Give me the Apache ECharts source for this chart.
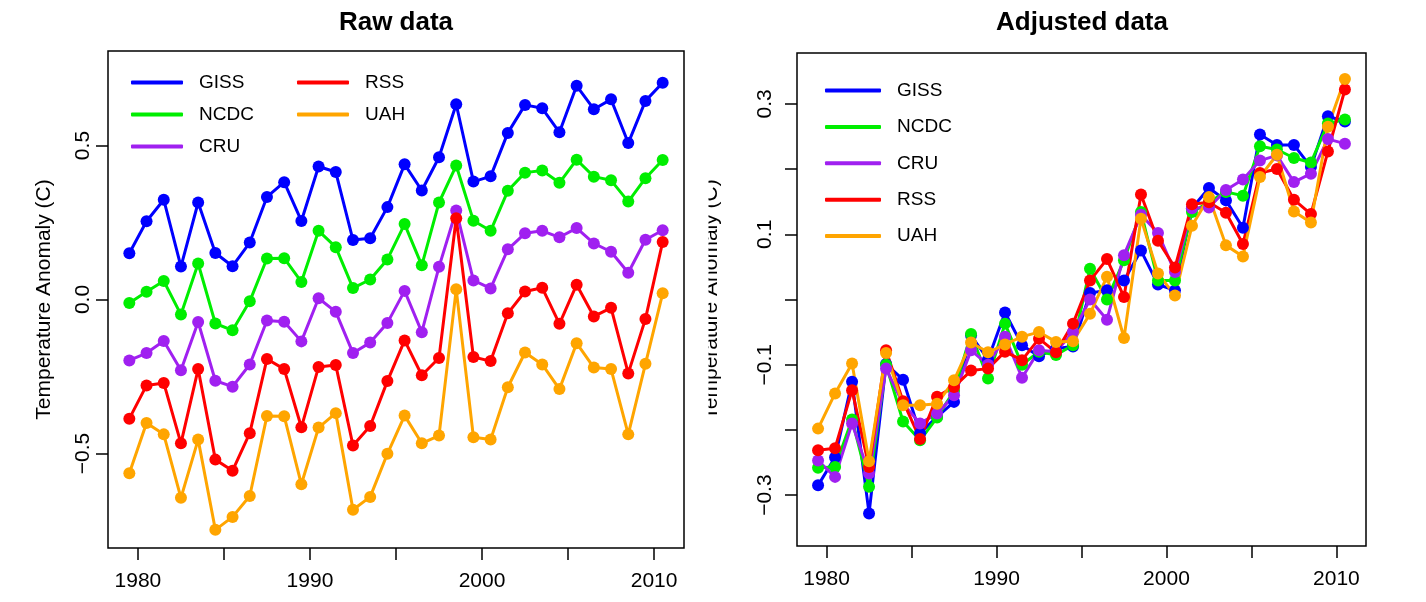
<!DOCTYPE html>
<html>
<head>
<meta charset="utf-8">
<script src="https://cdn.jsdelivr.net/npm/echarts@6/dist/echarts.min.js"></script>
<style>
  html, body { margin: 0; padding: 0; background: #fff; }
  #chart { width: 1426px; height: 602px; }
</style>
</head>
<body>
<div id="chart"></div>
<script>
// years (points are plotted at mid-year)
var years = [1979, 1980, 1981, 1982, 1983, 1984, 1985, 1986, 1987, 1988, 1989, 1990, 1991, 1992, 1993, 1994,
             1995, 1996, 1997, 1998, 1999, 2000, 2001, 2002, 2003, 2004, 2005, 2006, 2007, 2008, 2009, 2010];

// raw data (offset series)
var rawGISS = [0.150, 0.254, 0.324, 0.107, 0.315, 0.151, 0.108, 0.185, 0.333, 0.381, 0.255, 0.432, 0.414, 0.193, 0.199, 0.300,
               0.439, 0.354, 0.462, 0.634, 0.383, 0.400, 0.541, 0.632, 0.621, 0.543, 0.694, 0.618, 0.650, 0.508, 0.645, 0.704];
var rawNCDC = [-0.011, 0.025, 0.060, -0.049, 0.117, -0.078, -0.100, -0.006, 0.133, 0.134, 0.057, 0.223, 0.170, 0.037, 0.065, 0.130,
               0.245, 0.111, 0.315, 0.435, 0.256, 0.223, 0.353, 0.412, 0.419, 0.379, 0.454, 0.399, 0.387, 0.318, 0.394, 0.453];
var rawCRU = [-0.198, -0.174, -0.135, -0.230, -0.073, -0.264, -0.283, -0.211, -0.068, -0.072, -0.136, 0.004, -0.040, -0.174, -0.140, -0.076,
              0.028, -0.106, 0.106, 0.289, 0.062, 0.036, 0.163, 0.215, 0.223, 0.202, 0.232, 0.182, 0.155, 0.087, 0.194, 0.225];
var rawRSS = [-0.387, -0.279, -0.271, -0.467, -0.226, -0.520, -0.556, -0.434, -0.193, -0.226, -0.415, -0.219, -0.213, -0.474, -0.411, -0.265,
              -0.133, -0.246, -0.190, 0.264, -0.187, -0.200, -0.045, 0.026, 0.038, -0.079, 0.048, -0.055, -0.027, -0.240, -0.063, 0.187];
var rawUAH = [-0.564, -0.401, -0.438, -0.644, -0.455, -0.748, -0.706, -0.638, -0.378, -0.379, -0.600, -0.416, -0.369, -0.683, -0.641, -0.501,
              -0.377, -0.467, -0.442, 0.033, -0.447, -0.455, -0.285, -0.172, -0.211, -0.291, -0.142, -0.221, -0.226, -0.438, -0.209, 0.020];

// adjusted data
var adjGISS = [-0.285, -0.242, -0.126, -0.328, -0.099, -0.123, -0.205, -0.180, -0.157, -0.055, -0.092, -0.020, -0.070, -0.087, -0.075, -0.072,
               0.010, 0.014, 0.029, 0.075, 0.023, 0.014, 0.140, 0.171, 0.152, 0.110, 0.253, 0.237, 0.237, 0.203, 0.281, 0.273];
var adjNCDC = [-0.258, -0.257, -0.184, -0.287, -0.100, -0.187, -0.216, -0.181, -0.140, -0.053, -0.121, -0.037, -0.100, -0.080, -0.085, -0.070,
               0.047, 0.000, 0.060, 0.134, 0.029, 0.029, 0.134, 0.149, 0.165, 0.159, 0.235, 0.230, 0.217, 0.210, 0.270, 0.276];
var adjCRU = [-0.247, -0.272, -0.190, -0.267, -0.106, -0.160, -0.190, -0.175, -0.147, -0.078, -0.100, -0.057, -0.120, -0.078, -0.080, -0.050,
              0.000, -0.031, 0.068, 0.130, 0.102, 0.042, 0.140, 0.141, 0.168, 0.184, 0.213, 0.221, 0.180, 0.193, 0.246, 0.239];
var adjRSS = [-0.231, -0.228, -0.139, -0.257, -0.078, -0.156, -0.214, -0.149, -0.134, -0.109, -0.106, -0.080, -0.093, -0.060, -0.081, -0.037,
              0.029, 0.062, 0.004, 0.161, 0.090, 0.049, 0.146, 0.149, 0.133, 0.085, 0.194, 0.200, 0.153, 0.131, 0.227, 0.322];
var adjUAH = [-0.198, -0.144, -0.098, -0.248, -0.082, -0.162, -0.162, -0.160, -0.124, -0.066, -0.081, -0.069, -0.057, -0.050, -0.065, -0.064,
              -0.022, 0.035, -0.059, 0.124, 0.040, 0.006, 0.113, 0.157, 0.083, 0.066, 0.188, 0.222, 0.135, 0.118, 0.265, 0.338];

var names = ['GISS', 'NCDC', 'CRU', 'RSS', 'UAH'];
var colors = ['#0000FF', '#00EE00', '#A020F0', '#FF0000', '#FFA500'];
var rawSets = [rawGISS, rawNCDC, rawCRU, rawRSS, rawUAH];
var adjSets = [adjGISS, adjNCDC, adjCRU, adjRSS, adjUAH];

var xTicks = [1980, 1985, 1990, 1995, 2000, 2005, 2010];
var xLabels = [1980, 1990, 2000, 2010];
var rawYTicks = [-0.5, 0, 0.5];
var adjYTicks = [-0.3, -0.2, -0.1, 0, 0.1, 0.2, 0.3];
var adjYLabels = [-0.3, -0.1, 0.1, 0.3];

var font = "'Liberation Sans', Arial, Helvetica, sans-serif";

function fmtY(v) {
  return v.toFixed(1).replace('-', '\u2212');
}

function xAxis(idx) {
  return {
    type: 'value', gridIndex: idx, min: 1978.26, max: 2011.74,
    axisLine: { show: false, onZero: false },
    splitLine: { show: false },
    axisTick: { show: true, length: 12, customValues: xTicks, lineStyle: { color: '#000', width: 1.5 } },
    axisLabel: { customValues: xLabels, margin: 23, color: '#000', fontSize: 21, fontFamily: font,
                 formatter: function (v) { return String(v); } }
  };
}

// axis carrying labels and title
function yAxis(idx, min, max, labels, labelMargin, nameGap) {
  return {
    type: 'value', gridIndex: idx, min: min, max: max, position: 'left',
    name: 'Temperature Anomaly (C)', nameLocation: 'middle', nameGap: nameGap, nameRotate: 90,
    nameTextStyle: { color: '#000', fontSize: 21, fontFamily: font },
    axisLine: { show: false, onZero: false },
    splitLine: { show: false },
    axisTick: { show: false },
    axisLabel: { customValues: labels, rotate: 90, margin: labelMargin, color: '#000', fontSize: 21, fontFamily: font,
                 formatter: fmtY }
  };
}

// companion axis that only draws the tick marks
function yTickAxis(idx, min, max, ticks) {
  return {
    type: 'value', gridIndex: idx, min: min, max: max, position: 'left',
    axisLine: { show: false, onZero: false },
    splitLine: { show: false },
    axisLabel: { show: false },
    axisTick: { show: true, length: 12, customValues: ticks, lineStyle: { color: '#000', width: 1.5 } }
  };
}

var series = [];
names.forEach(function (n, i) {
  series.push({
    name: n, type: 'line', xAxisIndex: 0, yAxisIndex: 0,
    data: years.map(function (y, k) { return [y + 0.5, rawSets[i][k]]; }),
    symbol: 'circle', symbolSize: 12, color: colors[i],
    lineStyle: { width: 3, color: colors[i] }, itemStyle: { color: colors[i] },
    animation: false
  });
});
names.forEach(function (n, i) {
  series.push({
    name: n, type: 'line', xAxisIndex: 1, yAxisIndex: 1,
    data: years.map(function (y, k) { return [y + 0.5, adjSets[i][k]]; }),
    symbol: 'circle', symbolSize: 12, color: colors[i],
    lineStyle: { width: 3, color: colors[i] }, itemStyle: { color: colors[i] },
    animation: false
  });
});

var legendBase = {
  orient: 'vertical', icon: 'roundRect', itemHeight: 4, selectedMode: false,
  textStyle: { color: '#000', fontSize: 19, fontFamily: font, padding: [0, 0, 0, 11] }
};

var myChart = echarts.init(document.getElementById('chart'));
var option = {
  backgroundColor: '#ffffff',
  animation: false,
  title: [
    { text: 'Raw data', left: 391, top: 5, textAlign: 'center',
      textStyle: { fontSize: 26, fontWeight: 'bold', color: '#000', fontFamily: font } },
    { text: 'Adjusted data', left: 1077, top: 5, textAlign: 'center',
      textStyle: { fontSize: 26, fontWeight: 'bold', color: '#000', fontFamily: font } }
  ],
  legend: [
    Object.assign({}, legendBase, { data: ['GISS', 'NCDC', 'CRU'], left: 126, top: 68, itemWidth: 52, itemGap: 13 }),
    Object.assign({}, legendBase, { data: ['RSS', 'UAH'], left: 292, top: 68, itemWidth: 52, itemGap: 13 }),
    Object.assign({}, legendBase, { data: names, left: 820, top: 76, itemWidth: 56, itemGap: 17.4 })
  ],
  grid: [
    { left: 108, right: 742, top: 51, bottom: 54, show: true, borderColor: '#000', borderWidth: 1.5, backgroundColor: '#fff' },
    { left: 797, right: 60, top: 53, bottom: 56, show: true, borderColor: '#000', borderWidth: 1.5, backgroundColor: '#fff' }
  ],
  xAxis: [xAxis(0), xAxis(1)],
  yAxis: [
    yAxis(0, -0.807, 0.807, rawYTicks, 14, 53),
    yAxis(1, -0.378, 0.378, adjYLabels, 21, 75),
    yTickAxis(0, -0.807, 0.807, rawYTicks),
    yTickAxis(1, -0.378, 0.378, adjYTicks)
  ],
  // the right panel's axis title is cut off at the figure edge in the original
  graphic: [
    { type: 'rect', z: 100, shape: { x: 688, y: 120, width: 20.5, height: 360 }, style: { fill: '#fff' } }
  ],
  series: series
};
myChart.setOption(option);
</script>
</body>
</html>
